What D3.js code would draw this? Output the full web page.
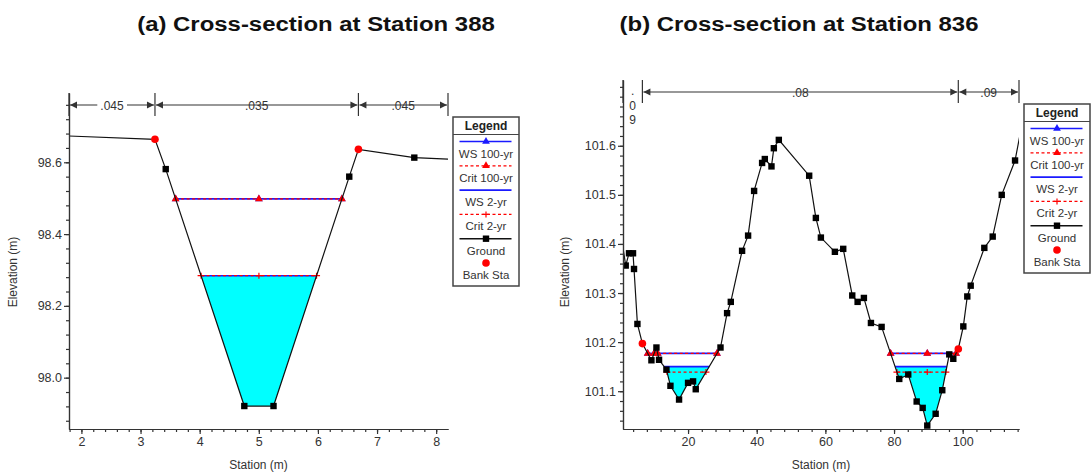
<!DOCTYPE html>
<html>
<head>
<meta charset="utf-8">
<script src="https://cdnjs.cloudflare.com/ajax/libs/d3/7.8.5/d3.min.js"></script>
<style>
  body { margin: 0; background: #fff; }
  svg text { font-family: "Liberation Sans", Arial, sans-serif; }
</style>
</head>
<body>
<div id="chart"></div>
<script>
'use strict';

// ---- Station 388 ----
const staA  = [1.5, 3.244, 3.426, 4.755, 5.249, 6.53, 6.685, 7.63, 8.5];
const elevA = [98.675, 98.664, 98.581, 97.921, 97.921, 98.56, 98.636, 98.613, 98.607];
const bankA = [3.244, 6.685];
const wsA   = [98.498, 98.284];   // WS 100-yr, WS 2-yr
const critA = [98.498, 98.284];   // Crit 100-yr, Crit 2-yr
const nA    = [".045", ".035", ".045"];
const xDomA = [1.79, 8.2];
const yDomA = [97.857, 98.793];
const xTicksA = [2, 3, 4, 5, 6, 7, 8];
const yTicksA = [98.0, 98.2, 98.4, 98.6];

// ---- Station 836 ----
const staB  = [0, 1.84, 2.8, 3.97, 4.26, 5.25, 6.7, 9.33, 10.79, 11.55,
               13.7, 14.87, 17.38, 20, 21.46, 22.24, 29.45, 31.37, 32.45, 35.74,
               37.49, 39.24, 41.57, 42.36, 44.3, 44.99, 46.44, 55.28, 57.23, 58.69,
               62.77, 65.2, 67.83, 69.39, 71.22, 73.27, 76.38, 81.52, 84.14, 86.59,
               88.34, 89.68, 92.12, 94.05, 96.09, 97.26, 98.72, 100.18, 101.34, 102.33,
               106.3, 108.74, 111.37, 115.25, 117.5];
const elevB = [101.44, 101.356, 101.381, 101.381, 101.349, 101.237, 101.197, 101.163, 101.189, 101.164,
               101.144, 101.111, 101.083, 101.117, 101.12, 101.104, 101.189, 101.259, 101.282, 101.386,
               101.417, 101.508, 101.565, 101.573, 101.558, 101.595, 101.612, 101.539, 101.453, 101.413,
               101.384, 101.39, 101.295, 101.282, 101.29, 101.239, 101.231, 101.125, 101.134, 101.079,
               101.066, 101.03, 101.054, 101.102, 101.175, 101.166, 101.186, 101.232, 101.293, 101.315,
               101.392, 101.415, 101.5, 101.57, 101.652];
const bankB = [6.7, 98.72];
const wsB   = [101.177, 101.150];
const critB = [101.177, 101.139];
const nB    = [".09", ".08", ".09"];
const xDomB = [1.05, 116.4];
const yDomB = [101.023, 101.734];
const xTicksB = [20, 40, 60, 80, 100];
const yTicksB = [101.1, 101.2, 101.3, 101.4, 101.5, 101.6];

const legendItems = ["WS 100-yr", "Crit 100-yr", "WS 2-yr", "Crit 2-yr", "Ground", "Bank Sta"];

const BLUE = "#1a1aff", RED = "#ff0000", CYAN = "#00ffff", INK = "#333";

class CrossSection {
  constructor (svg, props) {
    this.svg = svg;
    this.p = props;
  }

  render () {
    this.computeScales();
    this.g = this.svg.append("g");
    this.clipId = "clip-" + this.p.id;
    this.svg.append("clipPath").attr("id", this.clipId)
      .append("rect")
      .attr("x", this.p.left).attr("y", this.p.top - 20)
      .attr("width", this.p.right - this.p.left)
      .attr("height", this.p.bottom - this.p.top + 30);
    this.plot = this.g.append("g").attr("clip-path", `url(#${this.clipId})`);

    this.addFill();
    this.addWater();
    this.addGround();
    this.addRoughness();
    this.addAxes();
    this.addLegend();
    this.addTitle();
  }

  computeScales () {
    this.x = d3.scaleLinear().domain(this.p.xDom).range([this.p.left, this.p.right]);
    this.y = d3.scaleLinear().domain(this.p.yDom).range([this.p.bottom, this.p.top]);
    // lowest ground point(s) -> mid marker for water lines
    const lo = d3.min(this.p.elev);
    this.thalweg = d3.mean(this.p.sta.filter((s, i) => this.p.elev[i] === lo));
  }

  groundAt (s) {
    const st = this.p.sta, el = this.p.elev;
    const i = Math.max(1, d3.bisectLeft(st, s));
    const t = (s - st[i - 1]) / (st[i] - st[i - 1]);
    return el[i - 1] + t * (el[i] - el[i - 1]);
  }

  // stretches of the section where ground is under a given level
  wetSegments (level) {
    const s = this.p.sta, e = this.p.elev, out = [];
    let start = e[0] <= level ? s[0] : null;
    for (let i = 0; i < s.length - 1; i++) {
      const a = e[i], b = e[i + 1];
      if ((a - level) * (b - level) < 0) {
        const xc = s[i] + (level - a) / (b - a) * (s[i + 1] - s[i]);
        if (a > level) start = xc;
        else { out.push([start, xc]); start = null; }
      }
    }
    if (start !== null) out.push([start, s[s.length - 1]]);
    return out;
  }

  addFill () {
    const level = this.p.ws[1];
    const s = this.p.sta, e = this.p.elev, pts = [];
    for (let i = 0; i < s.length; i++) {
      pts.push([s[i], e[i]]);
      if (i < s.length - 1 && (e[i] - level) * (e[i + 1] - level) < 0) {
        pts.push([s[i] + (level - e[i]) / (e[i + 1] - e[i]) * (s[i + 1] - s[i]), level]);
      }
    }
    const area = d3.area()
      .x(d => this.x(d[0]))
      .y0(this.y(level))
      .y1(d => this.y(Math.min(d[1], level)));
    this.plot.append("path").datum(pts)
      .attr("d", area)
      .style("fill", CYAN);
  }

  marker (g, type, cx, cy, color) {
    if (type === "tri") {
      g.append("path")
        .attr("d", d3.symbol(d3.symbolTriangle).size(26)())
        .attr("transform", `translate(${cx},${cy})`)
        .style("fill", color);
    } else if (type === "plus") {
      g.append("path")
        .attr("d", `M${cx - 3.5},${cy}H${cx + 3.5}M${cx},${cy - 3}V${cy + 3}`)
        .style("stroke", color).style("stroke-width", 1.2);
    } else if (type === "square") {
      g.append("rect")
        .attr("x", cx - 3.2).attr("y", cy - 3.2).attr("width", 6.4).attr("height", 6.4)
        .style("fill", "#000");
    } else if (type === "circle") {
      g.append("circle").attr("cx", cx).attr("cy", cy).attr("r", 3.8)
        .style("fill", color);
    }
  }

  waterLine (level, color, dashed, mtype) {
    const segs = this.wetSegments(level);
    const g = this.plot.append("g");
    segs.forEach(sg => {
      g.append("line")
        .attr("x1", this.x(sg[0])).attr("x2", this.x(sg[1]))
        .attr("y1", this.y(level)).attr("y2", this.y(level))
        .style("stroke", color)
        .style("stroke-width", dashed ? 1.3 : 1.6)
        .style("stroke-dasharray", dashed ? "3,2.5" : null);
    });
    if (!mtype) return;
    segs.forEach(sg => {
      const marks = [sg[0], sg[1]];
      if (this.thalweg > sg[0] && this.thalweg < sg[1]) marks.push(this.thalweg);
      marks.forEach(m => this.marker(g, mtype, this.x(m), this.y(level), color));
    });
  }

  addWater () {
    this.waterLine(this.p.ws[0], BLUE, false, "tri");
    this.waterLine(this.p.crit[0], RED, true, "tri");
    this.waterLine(this.p.ws[1], BLUE, false, null);
    this.waterLine(this.p.crit[1], RED, true, "plus");
  }

  addGround () {
    const line = d3.line().x((d, i) => this.x(this.p.sta[i])).y(d => this.y(d));
    this.plot.append("path").datum(this.p.elev)
      .attr("d", line)
      .style("fill", "none").style("stroke", "#111").style("stroke-width", 1.2);

    const gm = this.plot.append("g");
    this.p.sta.forEach((s, i) => {
      if (this.p.bank.includes(s)) return;
      this.marker(gm, "square", this.x(s), this.y(this.p.elev[i]));
    });
    this.p.bank.forEach(b => this.marker(gm, "circle", this.x(b), this.y(this.groundAt(b)), RED));
  }

  // Manning's n zones drawn as dimension lines above the plot
  addRoughness () {
    const g = this.g.append("g");
    const bounds = [this.p.xDom[0], this.p.bank[0], this.p.bank[1], this.p.xDom[1]].map(this.x);
    const top = this.p.top, ly = top + 12;

    bounds.forEach(bx => {
      g.append("line").attr("x1", bx).attr("x2", bx)
        .attr("y1", top).attr("y2", top + 23)
        .style("stroke", INK).style("stroke-width", 1.2);
    });

    this.p.n.forEach((lab, i) => {
      const x0 = bounds[i], x1 = bounds[i + 1], cx = (x0 + x1) / 2;
      if (x1 - x0 < 40) {
        // too narrow: stack the value vertically, one character per row
        lab.split("").forEach((c, k) => {
          g.append("text").attr("x", cx).attr("y", top + 15 + k * 14.5)
            .attr("text-anchor", "middle").style("font-size", "12px").style("fill", INK)
            .text(c);
        });
        return;
      }
      g.append("line").attr("x1", x0 + 1).attr("x2", x1 - 1)
        .attr("y1", ly).attr("y2", ly)
        .style("stroke", INK).style("stroke-width", 1.2);
      g.append("path")
        .attr("d", `M${x0 + 1},${ly}l7,-3.5v7z M${x1 - 1},${ly}l-7,-3.5v7z`)
        .style("fill", INK);
      const t = g.append("text").attr("x", cx).attr("y", ly + 4.5)
        .attr("text-anchor", "middle").style("font-size", "12px").style("fill", INK)
        .text(lab);
      const bb = t.node().getBBox();
      g.insert("rect", "text")
        .attr("x", bb.x - 3).attr("y", bb.y).attr("width", bb.width + 6).attr("height", bb.height)
        .style("fill", "#fff");
    });
  }

  minorTicks (dom, step, anchor) {
    const out = [];
    const k0 = Math.ceil((dom[0] - anchor) / step), k1 = Math.floor((dom[1] - anchor) / step);
    for (let k = k0; k <= k1; k++) out.push(anchor + k * step);
    return out;
  }

  addAxes () {
    const p = this.p;
    const styleAxis = (sel) => {
      sel.selectAll("path,line").style("stroke", INK).style("stroke-width", 1.2);
      sel.selectAll("text").style("font-size", "12.5px").style("fill", INK);
    };

    this.g.append("g").attr("transform", `translate(0,${p.bottom})`)
      .call(d3.axisBottom(this.x).tickValues(this.minorTicks(p.xDom, p.xMinor, p.xTicks[0]))
        .tickSize(3).tickFormat("").tickSizeOuter(0))
      .call(styleAxis);
    this.g.append("g").attr("transform", `translate(${p.left},0)`)
      .call(d3.axisLeft(this.y).tickValues(this.minorTicks(p.yDom, p.yMinor, p.yTicks[0]))
        .tickSize(3).tickFormat("").tickSizeOuter(0))
      .call(styleAxis);

    this.g.append("g").attr("transform", `translate(0,${p.bottom})`)
      .call(d3.axisBottom(this.x).tickValues(p.xTicks).tickSize(5).tickPadding(3)
        .tickSizeOuter(0).tickFormat(d3.format("d")))
      .call(styleAxis);
    this.g.append("g").attr("transform", `translate(${p.left},0)`)
      .call(d3.axisLeft(this.y).tickValues(p.yTicks).tickSize(5).tickPadding(2)
        .tickSizeOuter(0).tickFormat(d3.format(".1f")))
      .call(styleAxis);

    this.g.append("text")
      .attr("x", (p.left + p.right) / 2).attr("y", p.bottom + 40)
      .attr("text-anchor", "middle").style("font-size", "12px").style("fill", INK)
      .text("Station (m)");
    this.g.append("text")
      .attr("transform", `translate(${p.elevLabelX},${p.bottom - 157}) rotate(-90)`)
      .attr("text-anchor", "middle").style("font-size", "12px").style("fill", INK)
      .text("Elevation (m)");
  }

  addLegend () {
    const lx = this.p.right + 5, ly = this.p.top + 24, w = 66, pitch = 24.3;
    const g = this.g.append("g").attr("transform", `translate(${lx},${ly})`);
    g.append("rect").attr("width", w).attr("height", 169)
      .style("fill", "#fff").style("stroke", "#444").style("stroke-width", 1.5);
    g.append("text").attr("x", w / 2).attr("y", 13)
      .attr("text-anchor", "middle").style("font-size", "12px").style("font-weight", "bold")
      .style("fill", "#222").text("Legend");
    g.append("line").attr("x1", 0).attr("x2", w).attr("y1", 17.5).attr("y2", 17.5)
      .style("stroke", "#444").style("stroke-width", 1.2);

    const styles = [
      {c: BLUE, dash: false, m: "tri"},
      {c: RED, dash: true, m: "tri"},
      {c: BLUE, dash: false, m: null},
      {c: RED, dash: true, m: "plus"},
      {c: "#111", dash: false, m: "square"},
      {c: RED, dash: null, m: "circle"}
    ];
    legendItems.forEach((name, i) => {
      const sy = 24.5 + i * pitch, st = styles[i];
      if (st.dash !== null) {
        g.append("line").attr("x1", 6.5).attr("x2", 58.5).attr("y1", sy).attr("y2", sy)
          .style("stroke", st.c).style("stroke-width", st.dash ? 1.3 : 1.6)
          .style("stroke-dasharray", st.dash ? "3,2.5" : null);
      }
      if (st.m) this.marker(g, st.m, w / 2, sy, st.c);
      g.append("text").attr("x", w / 2).attr("y", sy + 16)
        .attr("text-anchor", "middle").style("font-size", "11.5px").style("fill", INK)
        .text(name);
    });
  }

  addTitle () {
    this.svg.append("g")
      .attr("transform", `translate(${this.p.titleX},31) scale(1.14,1)`)
      .append("text")
      .attr("text-anchor", "middle")
      .style("font-size", "21px").style("font-weight", "bold").style("fill", "#111")
      .text(this.p.title);
  }
}

const svg = d3.select("#chart").append("svg")
  .attr("width", 1092).attr("height", 475)
  .style("background", "#fff");

new CrossSection(svg, {
  id: "a", title: "(a) Cross-section at Station 388", titleX: 316,
  left: 69, right: 448, top: 93, bottom: 429, elevLabelX: 17,
  sta: staA, elev: elevA, bank: bankA, ws: wsA, crit: critA, n: nA,
  xDom: xDomA, yDom: yDomA, xTicks: xTicksA, yTicks: yTicksA, xMinor: 0.2, yMinor: 0.04
}).render();

new CrossSection(svg, {
  id: "b", title: "(b) Cross-section at Station 836", titleX: 799,
  left: 623, right: 1019, top: 80, bottom: 429, elevLabelX: 569,
  sta: staB, elev: elevB, bank: bankB, ws: wsB, crit: critB, n: nB,
  xDom: xDomB, yDom: yDomB, xTicks: xTicksB, yTicks: yTicksB, xMinor: 4, yMinor: 0.02
}).render();
</script>
</body>
</html>
